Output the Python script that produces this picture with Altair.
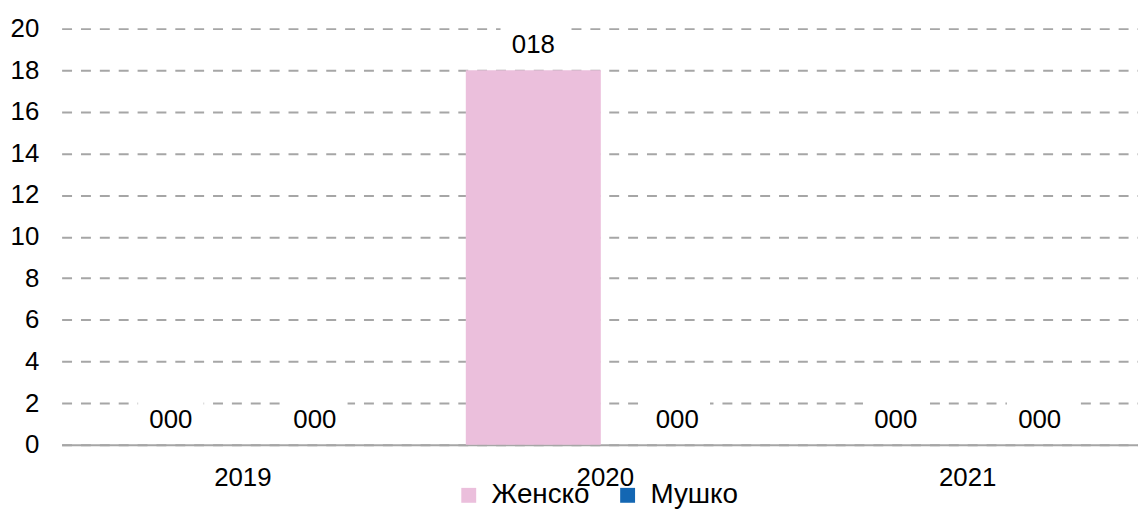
import altair as alt
import pandas as pd

years = ["2019", "2020", "2021"]
series = ["Женско", "Мушко"]
zhensko = [0, 18, 0]
mushko = [0, 0, 0]
colors = ["#EBBFDC", "#1467B3"]
y_ticks = [0, 2, 4, 6, 8, 10, 12, 14, 16, 18, 20]

rows = []
for i, y in enumerate(years):
    rows.append({"year": y, "series": series[0], "value": zhensko[i]})
    rows.append({"year": y, "series": series[1], "value": mushko[i]})
df = pd.DataFrame(rows)

FONT = "Liberation Sans"

x = alt.X("year:N", sort=years, title=None,
          scale=alt.Scale(paddingInner=0, paddingOuter=0),
          axis=alt.Axis(labelAngle=0, ticks=False, domainColor="#A6A6A6", domainWidth=2,
                        labelFontSize=26, labelFont=FONT, labelColor="black",
                        labelPadding=20, grid=False))
xo = alt.XOffset("series:N", sort=series,
                 scale=alt.Scale(paddingInner=0.062, paddingOuter=0.29))
y = alt.Y("value:Q", title=None,
          scale=alt.Scale(domain=[0, 20], nice=False),
          axis=alt.Axis(values=y_ticks, domain=False, ticks=False, grid=True,
                        gridDash=[10, 9], gridColor="#A6A6A6", gridWidth=2,
                        labelFontSize=26, labelFont=FONT, labelColor="black",
                        labelPadding=23))

base = alt.Chart(df).encode(x=x, xOffset=xo, y=y)

bars = base.mark_bar().encode(
    color=alt.Color("series:N", sort=series,
                    scale=alt.Scale(domain=series, range=colors),
                    legend=alt.Legend(title=None, orient="none", direction="horizontal",
                                      legendX=396, legendY=456, padding=0,
                                      symbolType="square", symbolSize=225,
                                      symbolStrokeWidth=0, labelFontSize=28,
                                      labelFont=FONT, labelColor="black",
                                      labelOffset=9, columnPadding=24))
)

boxes = base.mark_point(shape="M-3.3,-2L3.3,-2L3.3,2L-3.3,2Z", filled=True,
                        fill="white", opacity=1, size=400, yOffset=-25,
                        strokeWidth=0)

labels = base.mark_text(dy=-25, fontSize=26, font=FONT, baseline="middle",
                        color="black").encode(text=alt.Text("value:Q", format="03d"))

chart = alt.layer(bars, boxes, labels).properties(
    width=1095, height=419,
    autosize=alt.AutoSizeParams(type="none"),
    padding={"left": 54, "top": 19, "right": -11, "bottom": 63},
).configure_view(stroke=None)

chart.save("out.html", embed_options={"renderer": "svg", "actions": False})
